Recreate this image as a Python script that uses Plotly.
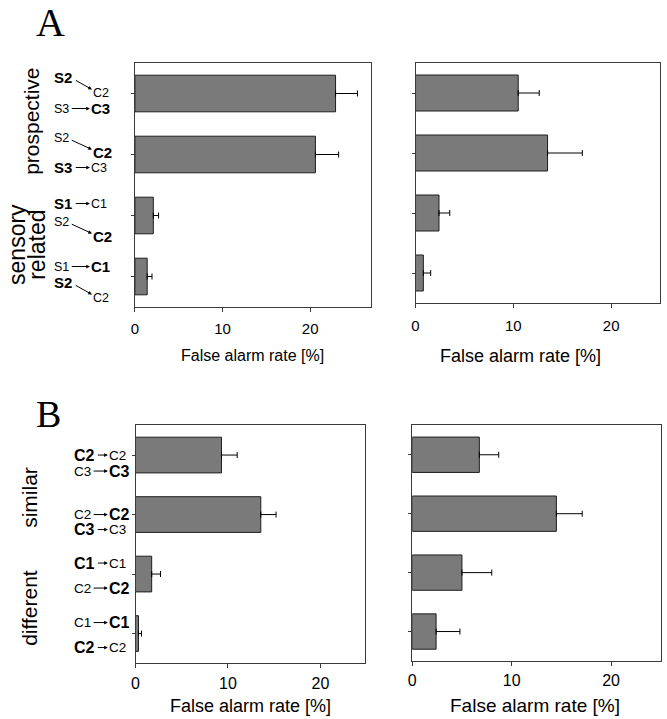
import plotly.graph_objects as go

W, H = 667, 719

# ---------------- data ----------------
A_categories = ["pro-1", "pro-2", "sen-1", "sen-2"]
B_categories = ["sim-1", "sim-2", "dif-1", "dif-2"]

A_left_rate = [22.9, 20.6, 2.1, 1.4]
A_left_err = [2.5, 2.65, 0.6, 0.55]
A_right_rate = [10.5, 13.5, 2.4, 0.8]
A_right_err = [2.15, 3.55, 1.1, 0.75]
B_left_rate = [9.3, 13.55, 1.75, 0.32]
B_left_err = [1.7, 1.65, 0.95, 0.33]
B_right_rate = [6.75, 14.5, 5.0, 2.4]
B_right_err = [1.95, 2.6, 3.0, 2.4]

x_tick_values = [0, 10, 20]
x_title = "False alarm rate [%]"

# category labels: (left word, right word, bold side, arrow kind)
A_labels = [
    [("S2", "C2", "L", "diag"), ("S3", "C3", "R", "h")],
    [("S2", "C2", "R", "diag"), ("S3", "C3", "L", "h")],
    [("S1", "C1", "L", "h"), ("S2", "C2", "R", "diag")],
    [("S1", "C1", "R", "h"), ("S2", "C2", "L", "diag")],
]
B_labels = [
    [("C2", "C2", "L", "h"), ("C3", "C3", "R", "h")],
    [("C2", "C2", "R", "h"), ("C3", "C3", "L", "h")],
    [("C1", "C1", "L", "h"), ("C2", "C2", "R", "h")],
    [("C1", "C1", "R", "h"), ("C2", "C2", "L", "h")],
]
A_group_titles = ["prospective", "sensory", "related"]
B_group_titles = ["similar", "different"]
panel_letters = ["A", "B"]

# ---------------- layout helpers ----------------
def px(x):
    return x / W

def py(y):
    return 1 - y / H

FONT = "Liberation Sans, Arial, sans-serif"
BAR_FILL = "#7a7a7a"
BAR_LINE = "#1e1e1e"
FRAME = "#3a3a3a"

panels = [
    # axis suffix, cats, rate, err, x-pixels, y-pixels, xrange, tick standoff
    ("", A_categories, A_left_rate, A_left_err, (131.7, 369.7), (63, 307), 27, 4),
    ("2", A_categories, A_right_rate, A_right_err, (414, 660), (63, 303), 25, 5),
    ("3", B_categories, B_left_rate, B_left_err, (132.3, 363), (425.3, 663.3), 24.8, 1),
    ("4", B_categories, B_right_rate, B_right_err, (410.7, 660.7), (425.3, 661), 25, 1),
]

fig = go.Figure()
layout = dict(
    width=W, height=H, margin=dict(l=0, r=0, t=0, b=0),
    paper_bgcolor="white", plot_bgcolor="white", showlegend=False,
    font=dict(family=FONT, color="black"),
)

for suf, cats, rate, err, (x0, x1), (y0, y1), xmax, tso in panels:
    fig.add_trace(go.Bar(
        orientation="h", x=rate, y=cats, width=0.6,
        xaxis="x" + suf, yaxis="y" + suf,
        marker=dict(color=BAR_FILL, line=dict(color=BAR_LINE, width=1)),
        error_x=dict(type="data", array=err, arrayminus=[0] * len(err),
                     symmetric=False, color="black", thickness=1, width=3),
    ))
    layout["xaxis" + suf] = dict(
        domain=[px(x0), px(x1)], range=[0, xmax], anchor="y" + suf,
        tickvals=x_tick_values, ticks="outside", ticklen=4, tickcolor=FRAME,
        showline=True, mirror=True, linecolor=FRAME, linewidth=1,
        showgrid=False, zeroline=False, tickfont=dict(size=15 if suf in ("", "2") else 16),
        ticklabelstandoff=tso,
    )
    layout["yaxis" + suf] = dict(
        domain=[py(y1), py(y0)], type="category", categoryorder="array",
        categoryarray=cats, range=[3.5, -0.5], anchor="x" + suf,
        ticks="outside", ticklen=3, tickcolor=FRAME, showticklabels=False,
        showline=True, mirror=True, linecolor=FRAME, linewidth=1,
        showgrid=False, zeroline=False,
    )

ann = []

# axis titles
for (cx, cy, size) in [(250, 356, 16), (520, 356, 18), (248, 706, 18), (534, 705, 19)]:
    ann.append(dict(text=x_title, x=px(cx), y=py(cy), xref="paper", yref="paper",
                    showarrow=False, font=dict(size=size), xanchor="center", yanchor="middle"))

# panel letters
ann.append(dict(text=panel_letters[0], x=px(46.5), y=1, xref="paper", yref="paper",
                showarrow=False, font=dict(size=40, family="Liberation Serif, Times New Roman, serif"),
                xanchor="center", yanchor="top", yshift=2))
ann.append(dict(text=panel_letters[1], x=px(45), y=py(414.5), xref="paper", yref="paper",
                showarrow=False, font=dict(size=38, family="Liberation Serif, Times New Roman, serif"),
                xanchor="center", yanchor="middle"))

# group titles (rotated)
for t, (cx, cy, size) in zip(A_group_titles, [(27, 121, 21), (13, 244, 23), (33, 245, 23)]):
    ann.append(dict(text=t, x=px(cx), y=py(cy), xref="paper", yref="paper", textangle=-90,
                    showarrow=False, font=dict(size=size), xanchor="center", yanchor="middle"))
for t, (cx, cy, size) in zip(B_group_titles, [(25, 497, 21), (25, 608, 21)]):
    ann.append(dict(text=t, x=px(cx), y=py(cy), xref="paper", yref="paper", textangle=-90,
                    showarrow=False, font=dict(size=size), xanchor="center", yanchor="middle"))


def word_width(text, bold, size):
    # approximate Arial widths
    em = {"S": 0.667, "C": 0.722, "1": 0.556, "2": 0.556, "3": 0.556}
    w = sum(em[c] for c in text) * size
    return w * (1.05 if bold else 1.0)


PAD = 2  # annotation inner padding (px)


def add_labels(labels, cats, yref, offsets, left_x, right_x_h, right_x_d, bsize, nsize):
    for cat, lines, offs in zip(cats, labels, offsets):
        for (lw, rw, bside, kind), off in zip(lines, offs):
            lbold = bside == "L"
            rbold = bside == "R"
            ly = off
            ry = off + (15 if kind == "diag" else 0)
            rx = right_x_d if kind == "diag" else right_x_h
            ls = bsize if lbold else nsize
            rs = bsize if rbold else nsize
            ann.append(dict(text=("<b>%s</b>" % lw) if lbold else lw, x=px(left_x - PAD), y=cat,
                            xref="paper", yref=yref, yshift=-ly, showarrow=False,
                            xanchor="left", yanchor="middle", font=dict(size=ls)))
            ann.append(dict(text=("<b>%s</b>" % rw) if rbold else rw, x=px(rx - PAD), y=cat,
                            xref="paper", yref=yref, yshift=-ry, showarrow=False,
                            xanchor="left", yanchor="middle", font=dict(size=rs)))
            tail_x = left_x + word_width(lw, lbold, ls) + 1.5
            head_x = rx - 1.5
            if kind == "diag":
                tail_y = ly + 2
                head_y = ry - 3
            else:
                tail_y = ly
                head_y = ry
            ann.append(dict(text=" ", x=px(head_x), y=cat, xref="paper", yref=yref,
                            yshift=-head_y, showarrow=True, ax=tail_x - head_x,
                            ay=tail_y - head_y, arrowhead=2, arrowsize=0.75, arrowwidth=1,
                            arrowcolor="black", standoff=0, startstandoff=0,
                            font=dict(size=1)))


A_offsets = [(-16, 15), (-17, 13), (-12, 6), (-10, 6)]
B_offsets = [(0, 16), (0, 15), (-11, 14), (-11, 14)]
add_labels(A_labels, A_categories, "y", A_offsets, 50, 88, 90, 15, 12.5)
add_labels(B_labels, B_categories, "y3", B_offsets, 70, 106, 106, 16, 13.5)

layout["annotations"] = ann
fig.update_layout(**layout)
fig.write_html(
    "out.html",
    config={"displayModeBar": False},
    post_script="document.body.style.margin='0';document.body.style.overflow='hidden';",
)
